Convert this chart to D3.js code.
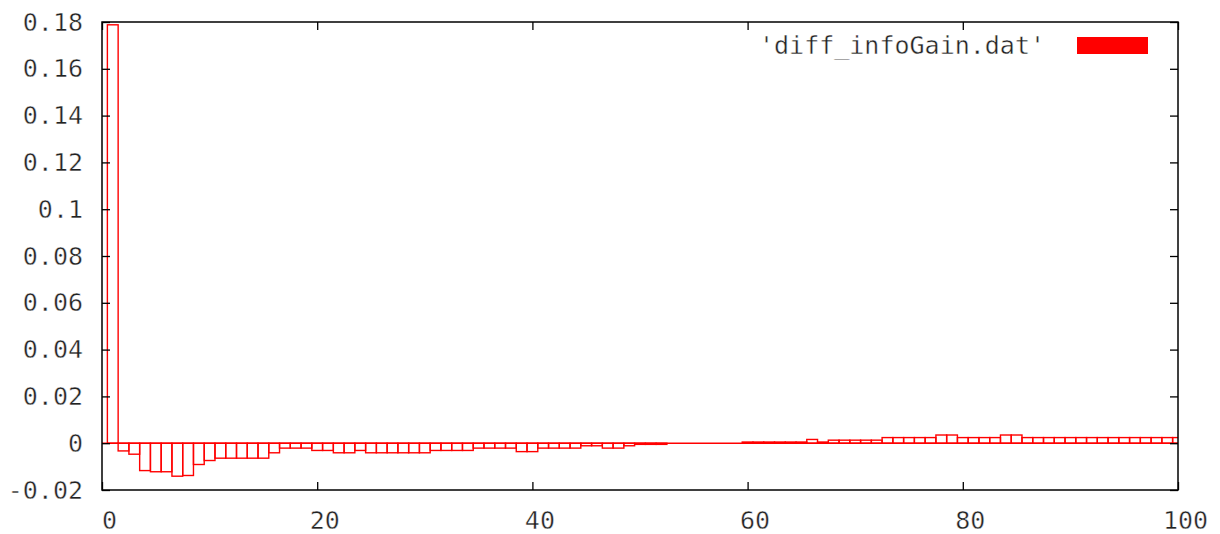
<!DOCTYPE html>
<html>
<head>
<meta charset="utf-8">
<script src="https://cdn.jsdelivr.net/npm/d3@7"></script>
<style>
  body { margin: 0; background: #fff; }
  svg { display: block; }
  .axis text, .legend text {
    font-family: "DejaVu Sans Mono", monospace; font-size: 25px; fill: #222;
    stroke: #fff; stroke-width: 0.4;
  }
  .axis line { stroke: #000; stroke-width: 1.3; }
</style>
</head>
<body>
<svg class="chart"></svg>
<script>
// bin index (1..100) and value for each box
var bins = d3.range(1, 101);
var diffInfoGain = [
  0.1788, -0.0033, -0.0047, -0.0117, -0.0122, -0.0122, -0.0141, -0.0138, -0.0091, -0.0074,
  -0.0064, -0.0064, -0.0064, -0.0064, -0.0064, -0.0041, -0.0021, -0.0021, -0.0021, -0.0031,
  -0.0031, -0.0041, -0.0041, -0.0031, -0.0041, -0.0041, -0.0041, -0.0041, -0.0041, -0.0041,
  -0.0031, -0.0031, -0.0031, -0.0031, -0.0021, -0.0021, -0.0021, -0.0021, -0.0036, -0.0036,
  -0.0021, -0.0021, -0.0021, -0.0021, -0.0011, -0.0011, -0.0021, -0.0021, -0.0011, -0.0005,
  -0.0005, -0.0005, 0, 0, 0, 0, 0, 0, 0, 0.0005,
  0.0005, 0.0005, 0.0005, 0.0005, 0.0005, 0.0016, 0.0005, 0.0013, 0.0013, 0.0013,
  0.0013, 0.0013, 0.0024, 0.0024, 0.0024, 0.0024, 0.0024, 0.0035, 0.0035, 0.0024,
  0.0024, 0.0024, 0.0024, 0.0035, 0.0035, 0.0024, 0.0024, 0.0024, 0.0024, 0.0024,
  0.0024, 0.0024, 0.0024, 0.0024, 0.0024, 0.0024, 0.0024, 0.0024, 0.0024, 0.0024
];
var xTicks = [0, 20, 40, 60, 80, 100];
var yTicks = [-0.02, 0, 0.02, 0.04, 0.06, 0.08, 0.1, 0.12, 0.14, 0.16, 0.18];
var yTickLabels = ["-0.02", "0", "0.02", "0.04", "0.06", "0.08", "0.1", "0.12", "0.14", "0.16", "0.18"];
var legendLabel = "'diff_infoGain.dat'";

var data = bins.map(function(b, i) { return {bin: b, value: diffInfoGain[i]}; });

// layout
var W = 1220, H = 534;
var margin = {top: 22, right: 42, bottom: 44, left: 102};
var width = W - margin.left - margin.right,
  height = H - margin.top - margin.bottom;

var chart = d3.select(".chart").attr("width", W).attr("height", H);
var body = chart.append("g")
  .attr("transform", "translate(" + margin.left + "," + margin.top + ")");

var x = d3.scaleLinear().domain([0, 100]).range([0, width]);
var y = d3.scaleLinear().domain([-0.02, 0.18]).range([height, 0]);

body.append("clipPath").attr("id", "plotClip")
  .append("rect").attr("width", width).attr("height", height);

// boxes, outlined only
body.append("g")
  .attr("clip-path", "url(#plotClip)")
  .selectAll("rect")
  .data(data.filter(function(d) { return d.value !== 0; }))
  .enter().append("rect")
    .attr("x", function(d) { return x(d.bin - 0.5); })
    .attr("width", function(d) { return x(d.bin + 0.5) - x(d.bin - 0.5); })
    .attr("y", function(d) { return y(Math.max(0, d.value)); })
    .attr("height", function(d) { return Math.abs(y(d.value) - y(0)); })
    .attr("fill", "none")
    .attr("stroke", "#ff0000")
    .attr("stroke-width", 1.4);

// zero line drawn by gnuplot boxes with zero height
body.append("line")
  .attr("x1", x(0)).attr("x2", width)
  .attr("y1", y(0)).attr("y2", y(0))
  .attr("stroke", "#ff0000").attr("stroke-width", 1.4);

// axes with inward ticks, mirrored on top and right
var yAxis = d3.axisLeft(y).tickValues(yTicks)
  .tickFormat(function(d, i) { return yTickLabels[i]; })
  .tickSizeInner(-8).tickSizeOuter(0).tickPadding(19);
var xAxis = d3.axisBottom(x).tickValues(xTicks)
  .tickFormat(d3.format("d"))
  .tickSizeInner(-8).tickSizeOuter(0).tickPadding(21);

body.append("g").attr("class", "axis").call(yAxis);
body.append("g").attr("class", "axis")
  .attr("transform", "translate(0," + height + ")")
  .call(xAxis)
  .selectAll(".tick text").attr("dx", 7);
body.append("g").attr("class", "axis")
  .attr("transform", "translate(" + width + ",0)")
  .call(d3.axisRight(y).tickValues(yTicks).tickFormat("").tickSizeInner(-8).tickSizeOuter(0));
body.append("g").attr("class", "axis")
  .call(d3.axisTop(x).tickValues(xTicks).tickFormat("").tickSizeInner(-8).tickSizeOuter(0));
body.selectAll(".axis .domain").remove();

// frame
body.append("rect")
  .attr("width", width).attr("height", height)
  .attr("fill", "none").attr("stroke", "#000").attr("stroke-width", 1.5);

// legend
var legend = body.append("g").attr("class", "legend")
  .attr("transform", "translate(" + (width - 133) + ",23)");
legend.append("text")
  .attr("x", 0).attr("dy", "0.36em")
  .attr("text-anchor", "end")
  .text(legendLabel);
legend.append("rect")
  .attr("x", 32).attr("y", -8)
  .attr("width", 71).attr("height", 17)
  .attr("fill", "#ff0000");
</script>
</body>
</html>
